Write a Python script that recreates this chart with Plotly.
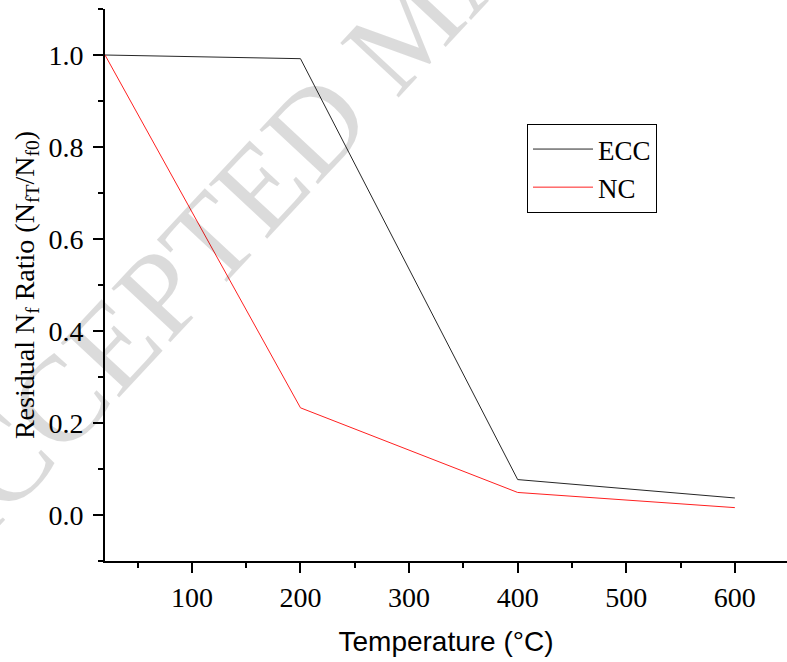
import plotly.graph_objects as go

temperature = [20, 200, 400, 600]
ecc_ratio = [1.0, 0.992, 0.077, 0.037]
nc_ratio = [1.0, 0.233, 0.049, 0.016]

x_ticks = [100, 200, 300, 400, 500, 600]
y_ticks = [0.0, 0.2, 0.4, 0.6, 0.8, 1.0]

serif = "Liberation Serif, Times New Roman, serif"
sans = "Liberation Sans, Arial, sans-serif"

fig = go.Figure()
fig.add_trace(go.Scatter(x=temperature, y=ecc_ratio, mode="lines", name="ECC",
                         line=dict(color="#262626", width=1)))
fig.add_trace(go.Scatter(x=temperature, y=nc_ratio, mode="lines", name="NC",
                         line=dict(color="#ff2020", width=1)))

fig.add_annotation(text="ACCEPTED MANUSCRIPT", xref="paper", yref="paper",
                   x=(408 - 105) / 682, y=(561 - 26) / 552, textangle=-47,
                   showarrow=False, font=dict(family=serif, size=122, color="rgba(0,0,0,0.14)"),
                   xanchor="center", yanchor="middle")

fig.update_layout(
    template="none",
    width=787, height=662,
    margin=dict(l=105, r=0, t=9, b=101, pad=0),
    paper_bgcolor="white", plot_bgcolor="white",
    showlegend=True,
    legend=dict(x=(527 - 105) / 682, y=(561 - 124) / 552, xanchor="left", yanchor="top",
                bordercolor="black", borderwidth=1, bgcolor="rgba(255,255,255,0)",
                font=dict(family=serif, size=27, color="black"),
                tracegroupgap=0, itemwidth=60),
    xaxis=dict(range=[20, 648], tickvals=x_ticks, ticks="outside", ticklen=10, tickwidth=2,
               tickcolor="black", showline=True, linecolor="black", linewidth=2,
               showgrid=False, zeroline=False, automargin=False,
               tickfont=dict(family=serif, size=28, color="black"),
               minor=dict(ticks="outside", ticklen=5, tickwidth=2, tickcolor="black",
                          dtick=50, tick0=0, showgrid=False),
               title=dict(text="Temperature (°C)", standoff=20,
                          font=dict(family=sans, size=28, color="black"))),
    yaxis=dict(range=[-0.1, 1.1], tickvals=y_ticks, tickformat=".1f", ticks="outside",
               ticklen=10, tickwidth=2, tickcolor="black", showline=True, linecolor="black",
               linewidth=2, showgrid=False, zeroline=False, automargin=False,
               ticklabelstandoff=4,
               tickfont=dict(family=serif, size=28, color="black"),
               minor=dict(ticks="outside", ticklen=5, tickwidth=2, tickcolor="black",
                          dtick=0.1, tick0=0, showgrid=False),
               title=dict(text="Residual N<sub>f</sub> Ratio (N<sub>fT</sub>/N<sub>f0</sub>)",
                          standoff=6, font=dict(family=serif, size=28, color="black"))),
)

fig.write_html("out.html")
